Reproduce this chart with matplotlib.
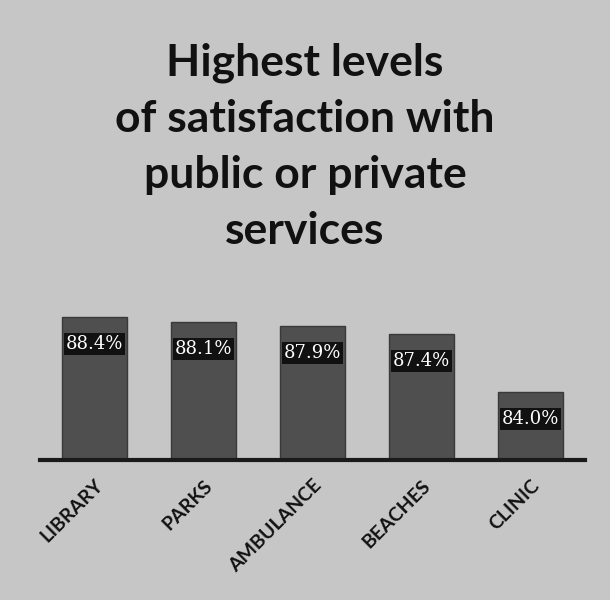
import matplotlib.pyplot as plt
import numpy as np

categories = ["LIBRARY", "PARKS", "AMBULANCE", "BEACHES", "CLINIC"]
values = [88.4, 88.1, 87.9, 87.4, 84.0]
value_labels = ["88.4%", "88.1%", "87.9%", "87.4%", "84.0%"]

bg = "#c6c6c6"
fig = plt.figure(figsize=(6.1, 6.0), dpi=100, facecolor=bg)
ax = fig.add_axes([40 / 610, 140 / 600, 545 / 610, 170 / 600])
ax.set_facecolor(bg)

x = np.arange(len(categories))
bars = ax.bar(x, values, width=0.59, color="#4f4f4f", edgecolor="#3a3a3a",
              linewidth=1)
ax.set_xlim(-0.5, len(categories) - 0.5)
ax.set_ylim(80, 90)

for spine in ["top", "right", "left"]:
    ax.spines[spine].set_visible(False)
ax.spines["bottom"].set_linewidth(3)
ax.spines["bottom"].set_color("#1a1a1a")
ax.set_yticks([])
ax.tick_params(axis="x", length=0, pad=12)
ax.set_xticks(x)
ax.set_xticklabels(categories, rotation=45, ha="right", rotation_mode="anchor",
                   fontsize=14, fontweight="bold", family="Lato", color="#111111")

for xi, v, t in zip(x, values, value_labels):
    ax.annotate(t, (xi, v), xytext=(0, -27), textcoords="offset pixels",
                ha="center", va="center", fontsize=13, family="DejaVu Serif",
                color="white",
                bbox=dict(boxstyle="square,pad=0.1", fc="#111111", ec="none"))

fig.text(0.5, 0.755, "Highest levels\nof satisfaction with\npublic or private\nservices",
         ha="center", va="center", fontsize=32, fontweight="bold", family="Lato",
         color="#111111", linespacing=1.48)

fig.savefig("out.png", dpi=100, facecolor=bg)
